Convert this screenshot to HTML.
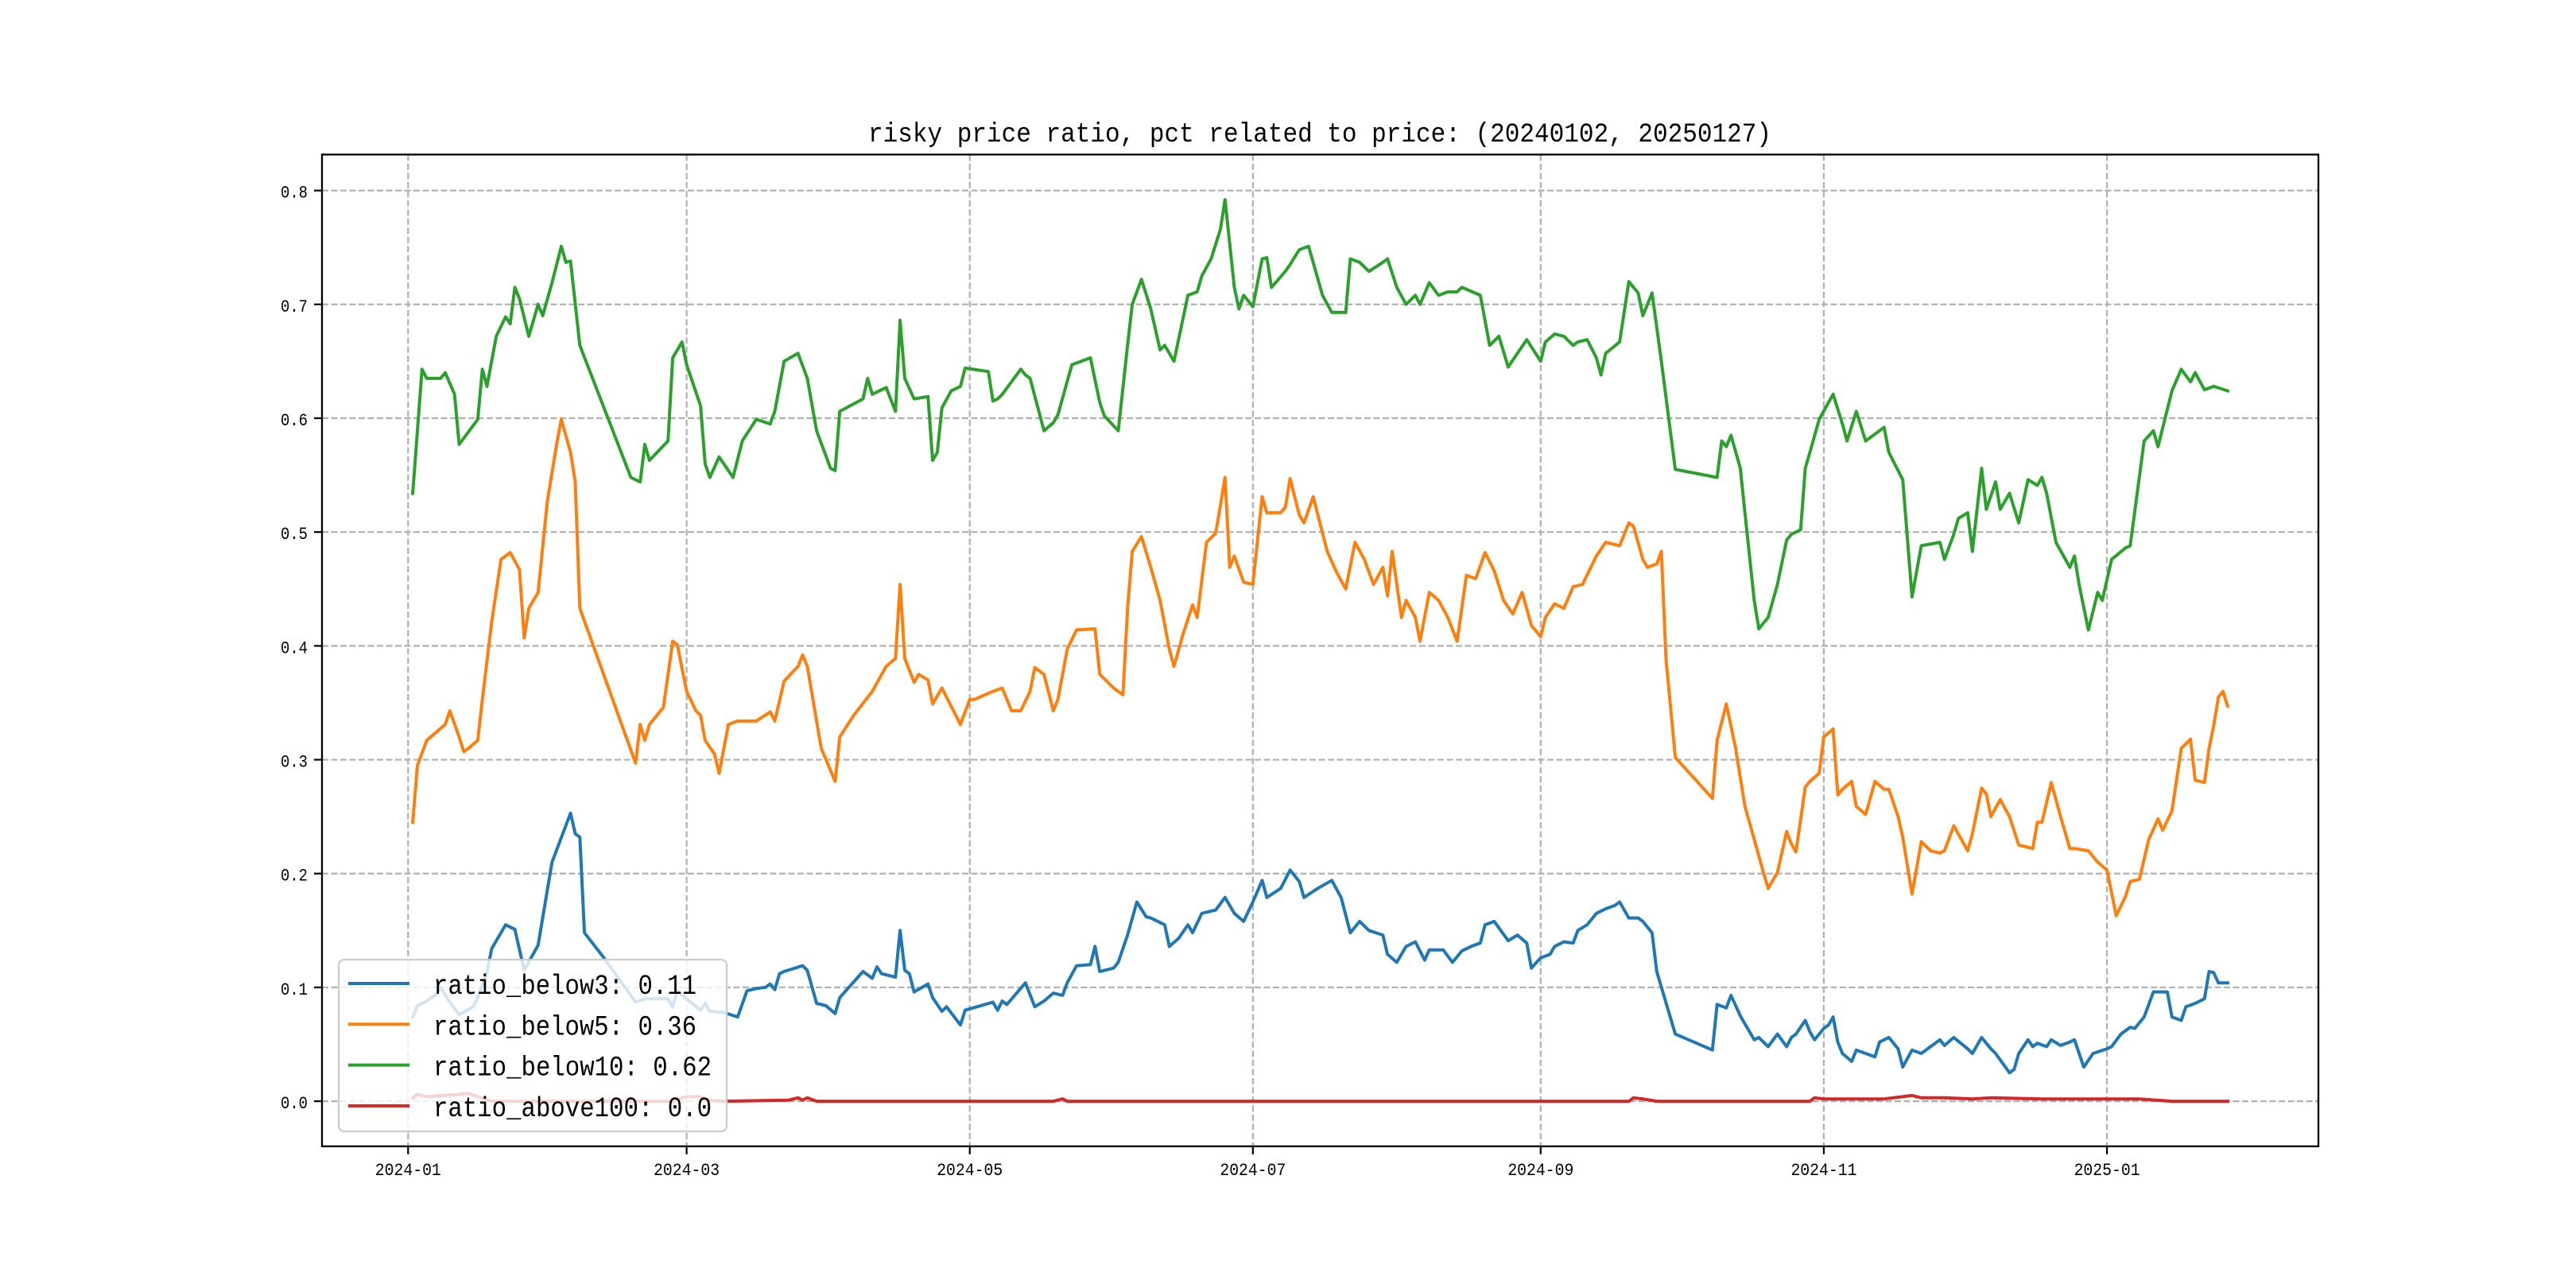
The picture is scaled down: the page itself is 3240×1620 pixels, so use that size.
<!DOCTYPE html>
<html><head><meta charset="utf-8"><style>
html,body{margin:0;padding:0;background:#fff;}
svg{display:block;}
text{font-family:"Liberation Mono","Noto Sans CJK SC",monospace;fill:#000;}
</style></head><body>
<svg id="chart" width="3240" height="1620" viewBox="0 0 3240 1620" xmlns="http://www.w3.org/2000/svg">
<rect width="3240" height="1620" fill="#fff"/>
<text x="1660" y="178" text-anchor="middle" font-size="34" textLength="1136" lengthAdjust="spacingAndGlyphs">risky price ratio, pct related to price: (20240102, 20250127)</text>
<g id="grid"></g>
<g id="series"></g>
<rect x="405" y="194.4" width="2511" height="1247.4" fill="none" stroke="#000" stroke-width="2.3"/>
<g id="ticks"></g>
<g id="legend"></g>
</svg>
<script>
// days since 2024-01-01
const xTickDays = [0, 60, 121, 182, 244, 305, 366];
const xTickLabels = ["2024-01","2024-03","2024-05","2024-07","2024-09","2024-11","2025-01"];
const yTickValues = [0.0,0.1,0.2,0.3,0.4,0.5,0.6,0.7,0.8];
const yTickLabels = ["0.0","0.1","0.2","0.3","0.4","0.5","0.6","0.7","0.8"];
const seriesNames = ["ratio_below3: 0.11","ratio_below5: 0.36","ratio_below10: 0.62","ratio_above100: 0.0"];
const seriesColors = ["#1f77b4","#ff7f0e","#2ca02c","#d62728"];

const blueDays = [1,2,4,6,7,9,11,14,15,17,18,21,23,25,28,31,35,36,37,38,42,49,51,53,56,57,58,60,63,64,65,68,71,73,75,77,78,79,80,81,85,86,88,90,92,93,98,100,101,102,105,106,107,108,109,112,113,115,116,119,120,126,127,128,129,133,135,137,139,141,142,144,147,148,149,152,153,155,157,159,160,163,164,166,168,169,171,174,176,178,180,182,184,185,188,190,192,193,196,199,201,203,205,207,210,211,213,215,217,219,220,223,225,227,229,231,232,234,237,239,241,242,244,246,247,249,251,252,254,256,258,260,261,263,265,266,268,269,273,281,282,284,285,287,288,290,291,293,295,297,298,299,301,302,303,305,306,307,308,309,311,312,314,316,317,319,321,322,324,326,328,330,331,333,336,337,339,341,342,345,346,347,349,350,351,353,354,356,358,359,361,363,366,367,369,371,372,374,376,379,380,382,383,385,387,388,389,390,392];
const blueVals = [.074,.084,.088,.094,.100,.087,.076,.083,.091,.113,.134,.155,.151,.115,.137,.21,.253,.235,.232,.148,.127,.087,.090,.090,.090,.083,.097,.090,.080,.086,.079,.078,.074,.097,.099,.100,.103,.098,.112,.114,.119,.115,.086,.084,.077,.091,.114,.108,.118,.112,.109,.150,.115,.112,.096,.103,.091,.079,.083,.067,.080,.087,.080,.088,.085,.104,.083,.088,.095,.093,.104,.119,.120,.136,.114,.117,.122,.146,.175,.162,.161,.155,.136,.143,.155,.148,.165,.168,.179,.165,.158,.175,.194,.179,.187,.203,.193,.179,.187,.194,.179,.148,.158,.150,.146,.129,.122,.136,.140,.124,.133,.133,.122,.132,.136,.139,.155,.158,.141,.146,.139,.117,.126,.129,.136,.140,.139,.150,.155,.165,.169,.172,.175,.161,.161,.158,.148,.114,.059,.045,.085,.082,.093,.075,.068,.054,.056,.048,.059,.048,.056,.059,.071,.061,.054,.064,.067,.074,.052,.042,.035,.045,.042,.039,.052,.056,.046,.030,.045,.042,.048,.054,.049,.056,.046,.042,.056,.046,.042,.025,.028,.042,.054,.048,.051,.048,.054,.049,.052,.054,.030,.042,.046,.048,.059,.065,.064,.074,.096,.096,.074,.071,.083,.086,.090,.114,.113,.104,.104];

const orangeDays = [1,2,4,8,9,11,12,13,15,16,18,20,22,24,25,26,28,30,32,33,35,36,37,49,50,51,52,55,57,58,60,62,63,64,66,67,69,71,73,75,78,79,81,84,85,86,89,92,93,96,100,103,105,106,107,109,110,112,113,115,119,121,122,126,128,130,132,134,135,137,139,140,142,144,148,149,152,154,155,156,158,160,162,164,165,167,169,170,172,174,176,177,178,180,182,184,185,188,189,190,192,193,195,198,200,202,204,206,208,210,211,212,214,215,217,218,220,222,224,226,228,230,232,234,236,238,240,242,244,245,247,249,251,253,256,258,261,263,264,266,267,269,270,271,273,281,282,284,286,288,290,292,293,295,297,298,299,301,302,304,305,307,308,309,311,312,314,315,316,318,319,321,322,324,326,328,330,331,333,336,337,339,340,341,343,345,347,350,351,352,354,356,358,359,362,364,366,368,370,371,373,375,377,378,380,382,384,385,387,388,389,390,391,392];
const orangeVals = [.245,.295,.317,.331,.343,.320,.307,.310,.317,.353,.421,.476,.482,.467,.407,.433,.447,.527,.577,.599,.570,.544,.433,.297,.331,.317,.331,.346,.404,.401,.360,.343,.339,.317,.305,.288,.331,.334,.334,.334,.342,.334,.369,.382,.392,.382,.310,.281,.320,.339,.360,.382,.389,.454,.389,.368,.375,.370,.349,.363,.331,.353,.353,.360,.363,.343,.343,.360,.381,.375,.343,.353,.397,.414,.415,.375,.363,.357,.433,.483,.496,.469,.440,.397,.382,.411,.436,.425,.491,.499,.548,.469,.479,.456,.454,.531,.517,.517,.522,.547,.515,.508,.531,.483,.465,.450,.491,.476,.454,.469,.444,.483,.425,.440,.425,.404,.447,.440,.425,.404,.462,.459,.482,.466,.440,.428,.447,.418,.408,.425,.437,.433,.452,.454,.479,.491,.488,.508,.505,.476,.469,.472,.483,.389,.302,.266,.317,.349,.310,.259,.230,.201,.187,.201,.237,.226,.219,.276,.281,.288,.320,.327,.269,.274,.281,.259,.252,.266,.281,.274,.274,.250,.232,.182,.228,.220,.218,.220,.242,.220,.235,.275,.270,.250,.265,.250,.225,.222,.245,.245,.280,.250,.222,.222,.220,.210,.203,.163,.180,.193,.195,.230,.248,.238,.255,.310,.318,.282,.280,.310,.330,.355,.360,.347,.347];

const greenDays = [1,3,4,7,8,10,11,15,16,17,19,21,22,23,24,26,28,29,31,33,34,35,37,48,50,51,52,56,57,59,60,63,64,65,67,70,72,75,78,79,81,84,86,88,91,92,93,98,99,100,103,105,106,107,109,112,113,114,115,117,119,120,125,126,127,128,132,133,134,137,139,140,143,147,149,150,153,155,156,158,160,162,163,165,168,170,171,173,175,176,178,179,180,182,184,185,186,189,190,192,194,197,199,202,203,205,207,210,211,213,215,217,218,220,222,224,226,227,231,233,235,237,239,241,244,245,247,249,251,252,254,256,257,258,261,263,265,266,268,270,273,282,283,284,285,287,288,290,291,293,295,297,298,300,301,302,304,307,309,310,312,314,317,318,319,322,324,326,330,331,333,334,336,337,339,340,342,343,345,347,349,351,352,353,355,358,359,360,362,364,365,367,370,371,374,376,377,380,382,384,385,387,389,392];
const greenVals = [.534,.643,.635,.635,.640,.621,.577,.599,.643,.628,.672,.689,.683,.715,.705,.672,.700,.690,.719,.751,.737,.738,.664,.548,.544,.577,.563,.580,.653,.667,.647,.611,.560,.548,.566,.548,.580,.599,.595,.606,.650,.657,.635,.589,.556,.554,.606,.617,.635,.621,.627,.606,.686,.635,.617,.619,.563,.570,.609,.624,.628,.644,.641,.615,.617,.621,.643,.638,.635,.589,.596,.603,.647,.653,.614,.602,.589,.664,.700,.722,.696,.660,.664,.650,.708,.711,.725,.740,.766,.792,.715,.696,.708,.698,.740,.741,.715,.729,.735,.748,.751,.708,.693,.693,.740,.737,.729,.737,.740,.715,.700,.708,.700,.719,.708,.711,.711,.715,.708,.664,.672,.645,.657,.669,.650,.667,.674,.672,.664,.667,.669,.653,.638,.657,.667,.720,.710,.690,.710,.650,.555,.548,.580,.575,.585,.556,.517,.440,.415,.425,.454,.493,.498,.502,.556,.570,.599,.621,.595,.580,.606,.580,.589,.592,.570,.546,.443,.488,.491,.476,.498,.512,.517,.483,.556,.520,.544,.520,.534,.508,.546,.541,.548,.534,.491,.469,.479,.454,.414,.447,.440,.476,.486,.488,.580,.589,.575,.624,.643,.632,.640,.625,.628,.624];

const redDays = [1,2,4,11,13,15,18,57,59,60,63,64,68,82,84,85,86,88,139,141,142,263,264,266,269,302,303,305,318,324,326,331,337,341,352,373,380,392];
const redVals = [.003,.006,.004,.006,.007,.004,0,0,.003,.004,.004,.001,0,.001,.003,.001,.003,0,0,.002,0,0,.003,.002,0,0,.003,.002,.002,.005,.003,.003,.002,.003,.002,.002,0,0];

const AX_L = 405, AX_R = 2916, AX_T = 194.4, AX_B = 1441.8;
const XMIN = 1 - 19.55, XMAX = 392 + 19.55;
const YMIN = -0.0396, YMAX = 0.8316;
function xScale(d){ return AX_L + (d - XMIN) / (XMAX - XMIN) * (AX_R - AX_L); }
function yScale(v){ return AX_B - (v - YMIN) / (YMAX - YMIN) * (AX_B - AX_T); }
const NS = "http://www.w3.org/2000/svg";
function mk(tag, parent){ const e = document.createElementNS(NS, tag); parent.appendChild(e); return e; }

const grid = document.getElementById('grid');
const ticks = document.getElementById('ticks');
xTickDays.forEach((d, i) => {
  const x = xScale(d);
  const gl = mk('line', grid);
  
  
  gl.setAttribute('x1', x); gl.setAttribute('x2', x); gl.setAttribute('y1', AX_T); gl.setAttribute('y2', AX_B);
  gl.setAttribute('stroke', '#b0b0b0'); gl.setAttribute('stroke-width', '2.2'); gl.setAttribute('stroke-dasharray', '8 3.5');
  const tm = mk('line', ticks);
  
  
  tm.setAttribute('x1', x); tm.setAttribute('x2', x); tm.setAttribute('y1', AX_B); tm.setAttribute('y2', AX_B + 10);
  tm.setAttribute('stroke', '#000'); tm.setAttribute('stroke-width', '2.2');
  const t = mk('text', ticks);
  
  
  t.setAttribute('x', x); t.setAttribute('y', AX_B + 36); t.setAttribute('text-anchor', 'middle');
  t.setAttribute('font-size', '22'); t.setAttribute('textLength', '83'); t.setAttribute('lengthAdjust', 'spacingAndGlyphs');
  t.textContent = xTickLabels[i];
});
yTickValues.forEach((v, i) => {
  const y = yScale(v);
  const gl = mk('line', grid);
  
  
  gl.setAttribute('x1', AX_L); gl.setAttribute('x2', AX_R); gl.setAttribute('y1', y); gl.setAttribute('y2', y);
  gl.setAttribute('stroke', '#b0b0b0'); gl.setAttribute('stroke-width', '2.2'); gl.setAttribute('stroke-dasharray', '8 3.5');
  const tm = mk('line', ticks);
  
  
  tm.setAttribute('x1', AX_L - 10); tm.setAttribute('x2', AX_L); tm.setAttribute('y1', y); tm.setAttribute('y2', y);
  tm.setAttribute('stroke', '#000'); tm.setAttribute('stroke-width', '2.2');
  const t = mk('text', ticks);
  
  
  t.setAttribute('x', AX_L - 18); t.setAttribute('y', y + 9); t.setAttribute('text-anchor', 'end');
  t.setAttribute('font-size', '22'); t.setAttribute('textLength', '34'); t.setAttribute('lengthAdjust', 'spacingAndGlyphs');
  t.textContent = yTickLabels[i];
});

const seriesG = document.getElementById('series');
const allDays = [blueDays, orangeDays, greenDays, redDays];
const allVals = [blueVals, orangeVals, greenVals, redVals];
const seriesIds = ['line-ratio-below3','line-ratio-below5','line-ratio-below10','line-ratio-above100'];
allDays.forEach((days, s) => {
  const vals = allVals[s];
  const pts = days.map((d, i) => xScale(d).toFixed(1) + ',' + yScale(vals[i]).toFixed(1)).join(' ');
  const pl = mk('polyline', seriesG);
  
  
  pl.setAttribute('points', pts);
  pl.setAttribute('fill', 'none'); pl.setAttribute('stroke', seriesColors[s]);
  pl.setAttribute('stroke-width', '4'); pl.setAttribute('stroke-linejoin', 'round'); pl.setAttribute('stroke-linecap', 'square');
});

const lg = document.getElementById('legend');
const box = mk('rect', lg);


box.setAttribute('x', 426); box.setAttribute('y', 1207); box.setAttribute('width', 488); box.setAttribute('height', 216);
box.setAttribute('rx', 7); box.setAttribute('fill', 'rgba(255,255,255,0.8)'); box.setAttribute('stroke', '#cccccc'); box.setAttribute('stroke-width', '2.2');
seriesNames.forEach((name, i) => {
  const y = 1237 + i * 51.3;
  const ln = mk('line', lg);
  
  
  ln.setAttribute('x1', 438); ln.setAttribute('x2', 515); ln.setAttribute('y1', y); ln.setAttribute('y2', y);
  ln.setAttribute('stroke', seriesColors[i]); ln.setAttribute('stroke-width', '4');
  const t = mk('text', lg);
  
  
  t.setAttribute('x', 545); t.setAttribute('y', y + 13); t.setAttribute('font-size', '35');
  t.setAttribute('textLength', (name.length * 18.4).toFixed(0)); t.setAttribute('lengthAdjust', 'spacingAndGlyphs');
  t.textContent = name;
});
</script>
</body></html>
